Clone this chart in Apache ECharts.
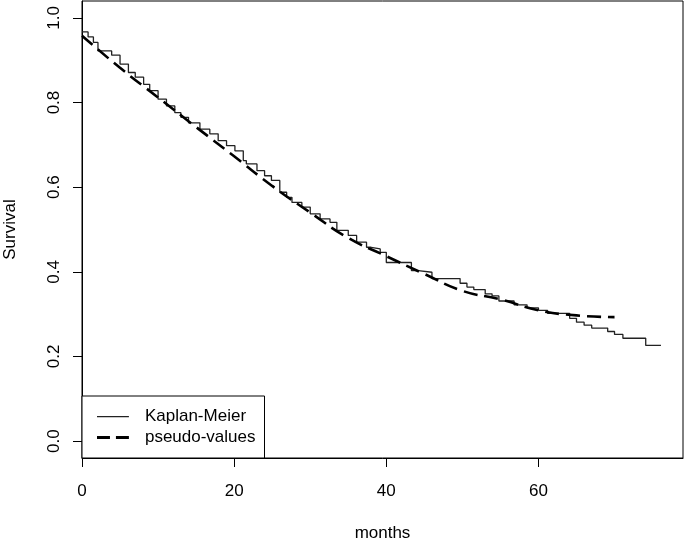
<!DOCTYPE html>
<html>
<head>
<meta charset="utf-8">
<script src="https://cdn.jsdelivr.net/npm/echarts@6/dist/echarts.min.js"></script>
<style>
  html, body { margin: 0; padding: 0; background: #fff; }
  #chart { width: 685px; height: 542px; }
</style>
</head>
<body>
<div id="chart"></div>
<script>
    'use strict';

    // Kaplan-Meier estimate: [month, survival], value holds until next month
    var kmSteps = [
        [0, 0.967], [0.8, 0.955], [1.5, 0.942], [2.1, 0.922], [3.9, 0.912],
        [5.0, 0.891], [6.1, 0.871], [7.0, 0.860], [8.1, 0.843], [8.9, 0.828],
        [10.0, 0.808], [11.1, 0.792], [12.2, 0.776], [13.0, 0.765], [14.0, 0.752],
        [15.5, 0.737], [16.8, 0.726], [17.9, 0.710], [19.0, 0.698], [20.1, 0.686],
        [21.2, 0.663], [21.6, 0.655], [23.0, 0.639], [24.0, 0.627], [24.9, 0.616],
        [26.0, 0.588], [26.9, 0.576], [27.6, 0.564], [28.9, 0.553], [30.0, 0.537],
        [31.3, 0.525], [32.6, 0.517], [33.5, 0.498], [35.0, 0.486], [36.1, 0.470],
        [37.4, 0.458], [38.0, 0.454], [39.2, 0.446], [40.0, 0.422], [43.3, 0.403],
        [44.2, 0.399], [46.0, 0.384], [49.7, 0.373], [50.6, 0.364], [51.5, 0.358],
        [53.0, 0.348], [53.9, 0.343], [54.8, 0.331], [56.8, 0.322], [58.5, 0.315],
        [60.0, 0.309], [61.2, 0.302], [64.1, 0.290], [65.0, 0.281], [66.0, 0.274],
        [67.0, 0.267], [69.1, 0.259], [70.0, 0.252], [71.1, 0.243], [74.1, 0.226],
        [76.1, 0.226]
    ];

    // fitted curve from pseudo-values
    var pseudoMonths = [0, 5, 10, 15, 20, 25, 30, 35, 40, 45, 50, 55, 60, 65, 70];
    var pseudoSurv = [0.958, 0.882, 0.812, 0.742, 0.673, 0.603, 0.540, 0.480,
                      0.437, 0.395, 0.355, 0.335, 0.309, 0.297, 0.293];

    var xTicks = [0, 20, 40, 60];
    var yTicks = [0, 0.2, 0.4, 0.6, 0.8, 1.0];

    var font = '"Liberation Sans", Arial, Helvetica, sans-serif';

    // legend keys drawn as filled paths (tiny dots at the corners fix the box size)
    var kmIcon = 'path://M0,0h0.01v0.01h-0.01z M0,1h32v1.3h-32z M42.99,3.2h0.01v0.01h-0.01z';
    var pseudoIcon = 'path://M0,0h13v3.2h-13z M19,0h13v3.2h-13z M42.99,3.2h0.01v0.01h-0.01z';

    var pseudoData = pseudoMonths.map(function(m, i) {
        return [m, pseudoSurv[i]];
    });

    var myChart = echarts.init(document.getElementById('chart'));

    myChart.setOption({
        animation: false,
        backgroundColor: '#fff',
        textStyle: { fontFamily: font, color: '#000' },
        grid: {
            left: 82, right: 2, top: 1, bottom: 84,
            outerBoundsMode: 'none',
            containLabel: false,
            show: true, borderColor: '#000', borderWidth: 1,
            backgroundColor: 'transparent'
        },
        xAxis: {
            type: 'value',
            min: 0, max: 79,
            name: 'months',
            nameLocation: 'middle',
            nameGap: 67,
            nameTextStyle: { fontSize: 17, color: '#000', fontFamily: font },
            splitLine: { show: false },
            axisLine: { show: true, onZero: false, lineStyle: { color: '#000' } },
            axisTick: { show: true, length: 9, customValues: xTicks, lineStyle: { color: '#000' } },
            axisLabel: {
                customValues: xTicks, margin: 25, fontSize: 17, color: '#000', fontFamily: font
            }
        },
        yAxis: {
            type: 'value',
            min: -0.04, max: 1.04,
            name: 'Survival',
            nameLocation: 'middle',
            nameGap: 63,
            nameTextStyle: { fontSize: 17, color: '#000', fontFamily: font },
            splitLine: { show: false },
            axisLine: { show: true, onZero: false, lineStyle: { color: '#000' } },
            axisTick: { show: true, length: 9, customValues: yTicks, lineStyle: { color: '#000' } },
            axisLabel: {
                customValues: yTicks, margin: 19, rotate: 90, fontSize: 17, color: '#000',
                fontFamily: font,
                formatter: function(v) { return v.toFixed(1); }
            }
        },
        legend: {
            left: 82, bottom: 84,
            orient: 'vertical',
            backgroundColor: '#fff',
            borderColor: '#000', borderWidth: 1,
            padding: [12, 9, 12, 15],
            itemGap: 4,
            itemWidth: 43, itemHeight: 3.2,
            textStyle: { fontSize: 17, color: '#000', fontFamily: font },
            data: [
                { name: 'Kaplan-Meier', icon: kmIcon, itemStyle: { color: '#222' } },
                { name: 'pseudo-values', icon: pseudoIcon, itemStyle: { color: '#000' } }
            ]
        },
        series: [
            {
                name: 'Kaplan-Meier',
                type: 'line',
                step: 'end',
                symbol: 'none',
                data: kmSteps,
                lineStyle: { color: '#222', width: 1.3 },
                itemStyle: { color: '#222' }
            },
            {
                name: 'pseudo-values',
                type: 'line',
                smooth: true,
                symbol: 'none',
                data: pseudoData,
                lineStyle: { color: '#000', width: 2.6, type: [14, 7] },
                itemStyle: { color: '#000' }
            }
        ]
    });
</script>
</body>
</html>
